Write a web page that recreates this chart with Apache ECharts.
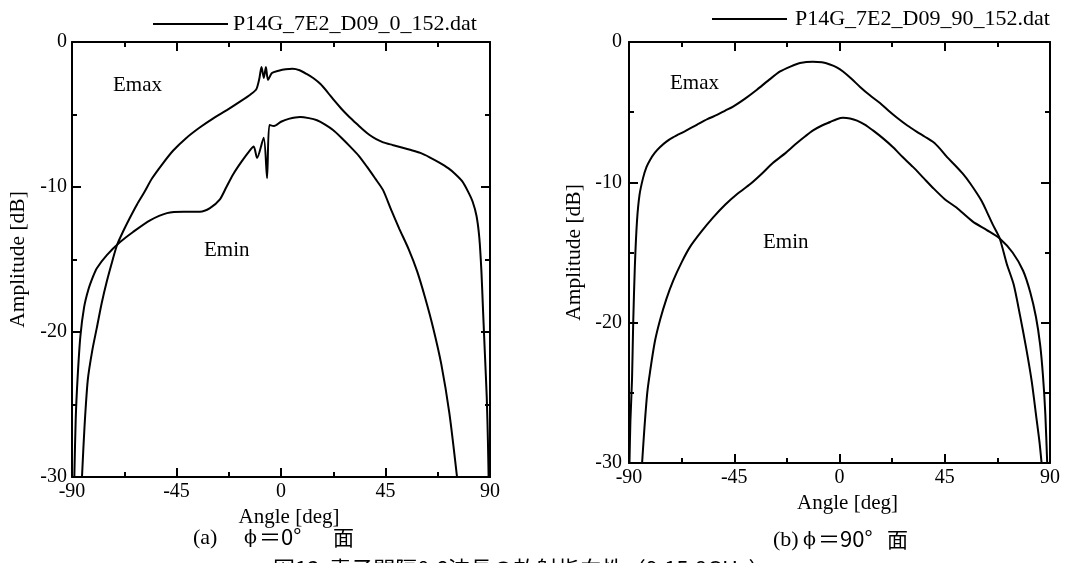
<!DOCTYPE html>
<html>
<head>
<meta charset="utf-8">
<script src="https://cdn.jsdelivr.net/npm/echarts@6/dist/echarts.min.js"></script>
<style>
  html, body { margin: 0; padding: 0; background: #fff; }
  #chart { width: 1068px; height: 563px; }
</style>
</head>
<body>
<div id="chart"></div>
<script>
// Radiation patterns: [angle (deg), amplitude (dB)]
const fileA = 'P14G_7E2_D09_0_152.dat';
const fileB = 'P14G_7E2_D09_90_152.dat';

// (a) phi = 0 deg plane
const emaxA = [
  [-85.7,-30],[-84.6,-26.5],[-83.2,-23.3],[-81.3,-21.3],[-79.3,-19.7],[-77.2,-18],[-75,-16.5],
  [-72.8,-15.2],[-70.6,-14],[-67.8,-13],[-65,-12.1],[-62,-11.2],[-59,-10.4],[-55.5,-9.4],
  [-51,-8.4],[-46.5,-7.5],[-41,-6.65],[-35,-5.9],[-29,-5.25],[-23.3,-4.7],[-17.5,-4.1],
  [-13,-3.6],[-10.6,-3.25],[-9.3,-2.5],[-8.4,-1.72],[-7.4,-2.48],[-6.5,-1.72],[-5.6,-2.62],
  [-3.9,-2.14],[-1,-1.98],[2,-1.88],[5,-1.85],[8,-1.95],[11,-2.2],[14,-2.5],[17,-2.9],
  [20,-3.45],[23,-4.05],[26,-4.6],[29,-5.1],[32,-5.55],[35,-6.0],[38,-6.4],[41,-6.7],
  [44,-6.92],[48,-7.1],[52,-7.27],[56,-7.45],[60,-7.65],[64,-7.95],[68,-8.3],[72,-8.7],
  [75,-9.1],[78,-9.6],[80.5,-10.3],[82.5,-11.0],[84.2,-12.0],[85.4,-13.5],[86.3,-15.8],
  [87,-18.5],[87.8,-21.5],[88.6,-24.5],[89.1,-27.5],[89.4,-30]
];
const eminA = [
  [-89,-30],[-88.4,-26],[-87.6,-23.2],[-86.4,-20.3],[-84.8,-18.3],[-83,-17.1],[-81,-16.2],
  [-79.3,-15.6],[-75,-14.7],[-69.3,-13.8],[-63.7,-13.1],[-56.4,-12.3],[-49.1,-11.8],[-42,-11.7],
  [-34.9,-11.7],[-30.6,-11.45],[-26.3,-10.85],[-23.5,-10.0],[-20.7,-9.15],[-17,-8.25],
  [-13.3,-7.45],[-11.75,-7.2],[-10.3,-8.0],[-7.45,-6.6],[-6.0,-9.4],[-5.0,-5.72],[-3,-5.8],
  [0,-5.5],[3.3,-5.3],[8.2,-5.17],[12,-5.25],[15.5,-5.4],[19,-5.7],[22.4,-6.07],[26,-6.6],
  [29.7,-7.2],[33.5,-7.85],[37,-8.6],[40.5,-9.4],[43.9,-10.2],[47.5,-11.6],[51,-12.9],
  [55,-14.3],[58.6,-15.8],[62,-17.6],[65.5,-19.7],[69,-22.2],[72.5,-25.6],[75.8,-30]
];

// (b) phi = 90 deg plane
const emaxB = [
  [-89.8,-30],[-89.4,-27],[-88.7,-24],[-88.2,-20],[-87.5,-16],[-86.6,-12.8],[-85.5,-10.9],
  [-84,-9.7],[-82.5,-8.9],[-81,-8.4],[-79,-7.9],[-76.8,-7.5],[-74,-7.1],[-71.2,-6.8],[-66,-6.35],
  [-61,-5.9],[-56.5,-5.5],[-52.4,-5.2],[-49,-4.9],[-45.5,-4.6],[-40.5,-4.05],[-35.3,-3.4],
  [-30.5,-2.75],[-25.4,-2.1],[-21,-1.75],[-16.9,-1.5],[-11.4,-1.4],[-7.5,-1.45],[-4.1,-1.6],
  [-1.2,-1.8],[1.5,-2.1],[5,-2.6],[8.8,-3.2],[13,-3.8],[17.3,-4.35],[21,-4.9],[24.6,-5.4],
  [29,-5.95],[33.1,-6.4],[36.5,-6.75],[40.2,-7.15],[43.2,-7.65],[46,-8.2],[49.5,-8.8],
  [52.8,-9.4],[56,-10.1],[58.8,-10.8],[61,-11.4],[63,-12.1],[65.5,-13],[68.5,-14],[71.5,-15.8],
  [74.5,-17.3],[77.2,-19.5],[79.8,-21.8],[82.2,-24.2],[84.2,-26.8],[85.5,-28.5],[86.4,-30]
];
const eminB = [
  [-84.4,-30],[-83.4,-27.5],[-82.2,-25],[-81,-23.5],[-79,-21.4],[-76.7,-19.8],[-74,-18.3],
  [-71.1,-17],[-67.5,-15.7],[-63.9,-14.6],[-59,-13.5],[-54,-12.5],[-48.9,-11.6],[-43.5,-10.8],
  [-38,-10.1],[-33,-9.35],[-28.4,-8.6],[-23,-7.9],[-18.2,-7.2],[-14.5,-6.7],[-11.3,-6.3],
  [-7.5,-5.95],[-4,-5.7],[-1.2,-5.5],[1.5,-5.4],[4.5,-5.45],[7.5,-5.6],[11,-5.9],[14.3,-6.3],
  [18.5,-6.85],[22.9,-7.5],[27,-8.2],[31.4,-8.9],[36,-9.7],[40,-10.4],[45,-11.2],[50,-11.8],
  [57,-12.8],[63,-13.4],[68.5,-14],[74,-15],[78.5,-16.3],[81.5,-17.8],[84,-19.6],[85.8,-21.6],
  [87,-23.8],[88,-26.5],[88.8,-30]
];

const SERIF = 'Liberation Serif';
const GREEK = 'DejaVu Serif';
const CJK = 'Noto Sans CJK JP';
const INK = '#000';

function angleAxis(grid, pos, labelMargin, name, nameGap) {
  return {
    gridIndex: grid, type: 'value', position: pos, min: -90, max: 90, interval: 45,
    axisLine: { show: true, onZero: false, lineStyle: { color: INK, width: 2 } },
    axisTick: { show: true, inside: true, length: 9, lineStyle: { color: INK, width: 2 } },
    minorTick: { show: true, splitNumber: 2, length: 5, lineStyle: { color: INK, width: 2 } },
    splitLine: { show: false },
    axisLabel: { show: pos === 'bottom', margin: labelMargin, color: INK, fontFamily: SERIF, fontSize: 20 },
    name: pos === 'bottom' ? name : '', nameLocation: 'middle', nameGap: nameGap,
    nameTextStyle: { color: INK, fontFamily: SERIF, fontSize: 21, padding: [0, 0, 0, 16] }
  };
}
function ampAxis(grid, pos, labelMargin, nameGap) {
  return {
    gridIndex: grid, type: 'value', position: pos, min: -30, max: 0, interval: 10,
    axisLine: { show: true, onZero: false, lineStyle: { color: INK, width: 2 } },
    axisTick: { show: true, inside: true, length: 9, lineStyle: { color: INK, width: 2 } },
    minorTick: { show: true, splitNumber: 2, length: 5, lineStyle: { color: INK, width: 2 } },
    splitLine: { show: false },
    axisLabel: { show: pos === 'left', margin: labelMargin, color: INK, fontFamily: SERIF, fontSize: 20 },
    name: pos === 'left' ? 'Amplitude [dB]' : '', nameLocation: 'middle', nameGap: nameGap,
    nameTextStyle: { color: INK, fontFamily: SERIF, fontSize: 21.5 }
  };
}
function curve(name, xi, yi, data) {
  return {
    type: 'line', name: name, xAxisIndex: xi, yAxisIndex: yi, data: data,
    showSymbol: false, symbol: 'none', smooth: 0.25, clip: true,
    lineStyle: { color: INK, width: 2 }, itemStyle: { color: INK }
  };
}
function label(text, x, y, size, font) {
  return {
    type: 'text', left: x, top: y,
    style: { text: text, fill: INK, font: size + 'px "' + (font || SERIF) + '"' }
  };
}

const chart = echarts.init(document.getElementById('chart'), null, { renderer: 'canvas' });
chart.setOption({
  animation: false,
  backgroundColor: '#fff',
  grid: [
    { left: 72, top: 42, width: 418, height: 435 },
    { left: 629, top: 42, width: 421, height: 421 }
  ],
  legend: [
    { data: [fileA], left: 148, top: 8, icon: 'rect', itemWidth: 75, itemHeight: 2,
      textStyle: { color: INK, fontFamily: SERIF, fontSize: 22, padding: [0, 0, 0, 0] } },
    { data: [fileB], left: 707, top: 3, icon: 'rect', itemWidth: 75, itemHeight: 2,
      textStyle: { color: INK, fontFamily: SERIF, fontSize: 22, padding: [0, 0, 0, 3] } }
  ],
  xAxis: [
    angleAxis(0, 'bottom', 5, 'Angle [deg]', 29),
    angleAxis(0, 'top', 5, '', 0),
    angleAxis(1, 'bottom', 5, 'Angle [deg]', 25),
    angleAxis(1, 'top', 5, '', 0)
  ],
  yAxis: [
    ampAxis(0, 'left', 5, 43),
    ampAxis(0, 'right', 5, 0),
    ampAxis(1, 'left', 7, 44),
    ampAxis(1, 'right', 7, 0)
  ],
  series: [
    curve(fileA, 0, 0, emaxA),
    curve(fileA, 0, 0, eminA),
    curve(fileB, 2, 2, emaxB),
    curve(fileB, 2, 2, eminB)
  ],
  graphic: [
    label('Emax', 113, 75, 21),
    label('Emin', 204, 240, 21),
    label('Emax', 670, 73, 21),
    label('Emin', 763, 232, 21),
    label('(a)', 193, 527, 22),
    label('ϕ', 244, 529, 19, GREEK),
    label('＝0°', 259, 526, 22, CJK),
    label('面', 333, 527, 21, CJK),
    label('(b)', 773, 529, 22),
    label('ϕ', 803, 531, 19, GREEK),
    label('＝90°', 818, 528, 22, CJK),
    label('面', 887, 529, 21, CJK),
    label('図13  素子間隔0.6波長の放射指向性（9.15.8GHz）', 273, 558, 22, CJK)
  ]
});
</script>
</body>
</html>
